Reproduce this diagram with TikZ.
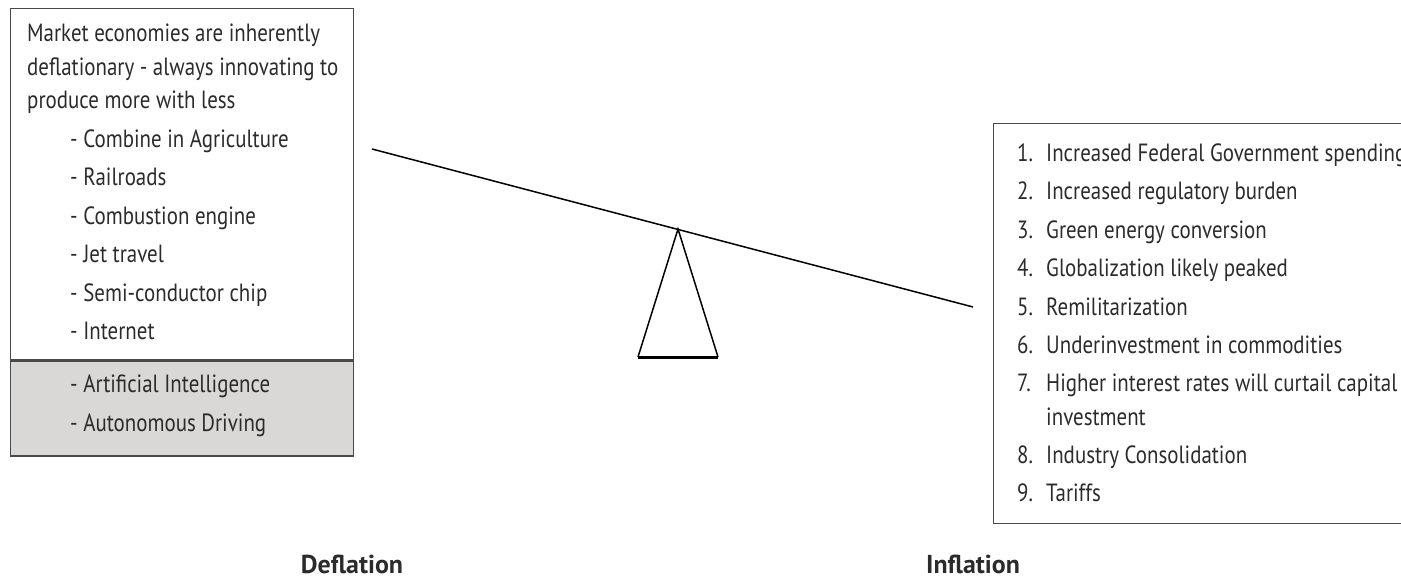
\documentclass[tikz,border=0pt]{standalone}
\usepackage{fontspec}
\setmainfont{PT Sans}[FakeStretch=0.84]
\newfontfamily\capfont{PT Sans}
\usepackage{tikz}
\usetikzlibrary{positioning, calc}
\usepackage{xcolor}
\definecolor{boxline}{HTML}{4A4A4A}
\definecolor{newfill}{HTML}{D9D8D7}
\definecolor{ink}{HTML}{2B2B2B}
\tikzstyle{panel} = [rectangle, draw=boxline, line width=1.3bp, inner sep=0pt, anchor=north west]
\tikzstyle{entry} = [anchor=base west, inner sep=0pt, text=ink, font=\fontsize{25}{30}\selectfont]
\tikzstyle{caption} = [inner sep=0pt, text=ink, font=\capfont\fontsize{26}{30}\selectfont\bfseries]

\begin{document}
\begin{tikzpicture}[x=1bp, y=-1bp]
    \clip (0,0) rectangle (1401,577);

    % deflation side
    \node (oldtech) [panel, minimum width=343bp, minimum height=351bp] at (10,8) {};
    \node (newtech) [panel, fill=newfill, minimum width=343bp, minimum height=95bp] at (oldtech.south west) {};
    \node (intro1) [entry] at (27,42) {Market economies are inherently};
    \node (intro2) [entry] at (27,76) {deflationary - always innovating to};
    \node (intro3) [entry] at (27,109) {produce more with less};
    \foreach \name/\txt/\y in {agri/Combine in Agriculture/148, rail/Railroads/186, engine/Combustion engine/224,
        jet/Jet travel/262, chip/Semi-conductor chip/301, web/Internet/339,
        ai/Artificial Intelligence/392, auto/Autonomous Driving/431} {
        \node (\name) [entry] at (70,\y) {- \txt};
    }

    % inflation side
    \node (drivers) [panel, minimum width=420bp, minimum height=400bp] at (993,123) {};
    \foreach \n/\txt/\y in {1/Increased Federal Government spending/162, 2/Increased regulatory burden/200,
        3/Green energy conversion/238, 4/Globalization likely peaked/276, 5/Remilitarization/315,
        6/Underinvestment in commodities/353, 7/Higher interest rates will curtail capital/391,
        8/Industry Consolidation/463, 9/Tariffs/501} {
        \node (num\n) [entry] at (1017,\y) {\n.};
        \node (item\n) [entry] at (1046,\y) {\txt};
    }
    \node (item7b) [entry] at (1046,425) {investment};

    % the scale
    \coordinate (beamL) at (372,149);
    \coordinate (beamR) at (973,307);
    \coordinate (apex) at (678,229);
    \coordinate (footL) at (638,357);
    \coordinate (footR) at (718,357);
    \draw [line width=1.5bp, black] (beamL) -- (beamR);
    \draw [line width=1.5bp, black] (footL) -- (apex) -- (footR);
    \draw [line width=3bp, black] (footL) -- (footR);

    \node (defl) [caption] at (352,564) {Deflation};
    \node (infl) [caption] at (973,564) {Inflation};
\end{tikzpicture}
\end{document}
